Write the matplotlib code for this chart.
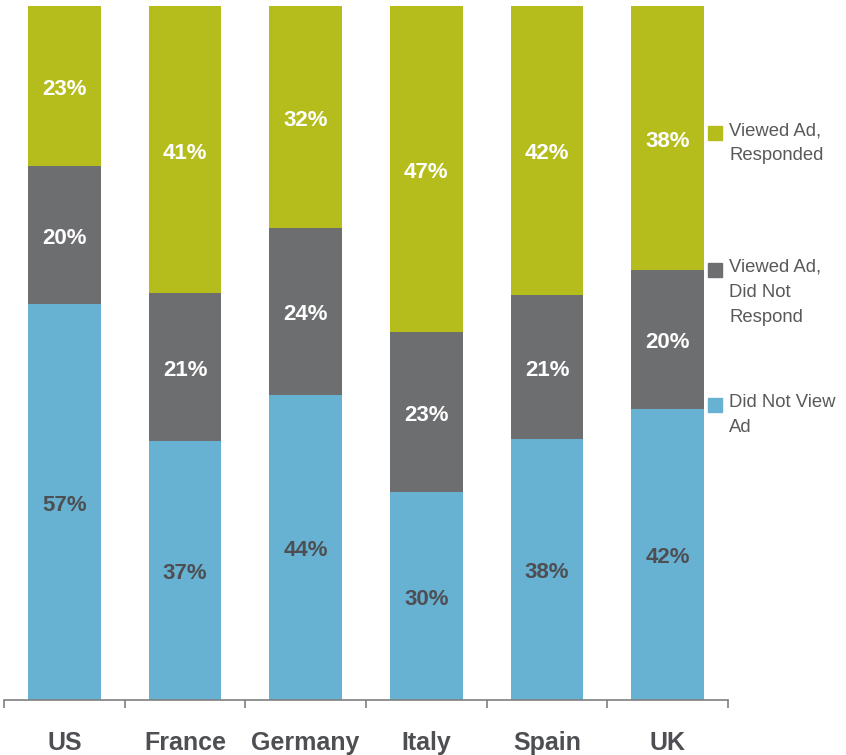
import matplotlib.pyplot as plt
import matplotlib.patches as patches
import matplotlib.transforms as mtransforms
import numpy as np

plt.rcParams["font.family"] = ["Liberation Sans", "DejaVu Sans"]

# Data
countries = ["US", "France", "Germany", "Italy", "Spain", "UK"]
did_not_view = [57, 37, 44, 30, 38, 42]
viewed_no_resp = [20, 21, 24, 23, 21, 20]
viewed_resp = [23, 41, 32, 47, 42, 38]
series_names = ["Did Not View\nAd", "Viewed Ad,\nDid Not\nRespond", "Viewed Ad,\nResponded"]

colors = ["#67b1d2", "#6d6e70", "#b4bd1b"]
label_colors = ["#4d4f53", "white", "white"]
text_gray = "#4d4f53"

series = np.array([did_not_view, viewed_no_resp, viewed_resp], dtype=float)
shares = series / series.sum(axis=0) * 100  # bars fill to 100%

fig = plt.figure(figsize=(8.46, 7.55), dpi=100)
ax = fig.add_axes([4 / 846, 55 / 755, 724 / 846, 694 / 755])

# nudge value labels slightly down, like the original
label_tr = mtransforms.offset_copy(ax.transData, fig=fig, x=0, y=-2.5, units="points")

x = np.arange(len(countries))
bottom = np.zeros(len(countries))
for vals, shr, col, lc in zip(series, shares, colors, label_colors):
    ax.bar(x, shr, bottom=bottom, width=0.6, color=col, linewidth=0)
    for xi, v, s, b in zip(x, vals, shr, bottom):
        ax.text(xi, b + s / 2, f"{v:.0f}%", ha="center", va="center",
                color=lc, fontsize=16, fontweight="bold", transform=label_tr)
    bottom += shr

ax.set_xlim(-0.5, len(countries) - 0.5)
ax.set_ylim(0, 100)
for side in ["top", "right", "left"]:
    ax.spines[side].set_visible(False)
ax.spines["bottom"].set_color("#7f7f7f")
ax.spines["bottom"].set_linewidth(1.2)
ax.set_yticks([])
ax.set_xticks(x)
ax.set_xticklabels(countries, fontsize=18, fontweight="bold", color=text_gray)
ax.tick_params(axis="x", which="major", length=0, pad=22)
ax.set_xticks(np.arange(-0.5, len(countries)), minor=True)
ax.tick_params(axis="x", which="minor", length=6, width=1.2, color="#7f7f7f")

# Legend drawn on the right
legend_y = [405, 270, 133]  # pixel rows from top, per series
for name, col, py in zip(series_names, colors, legend_y):
    fig.patches.append(patches.Rectangle((708 / 846, 1 - (py + 7) / 755), 14 / 846, 14 / 755,
                                         transform=fig.transFigure, color=col))
    fig.text(729 / 846, 1 - (py - 11) / 755, name, ha="left", va="top",
             fontsize=13.3, color="#595959", linespacing=1.6)

fig.savefig("out.png", dpi=100)
